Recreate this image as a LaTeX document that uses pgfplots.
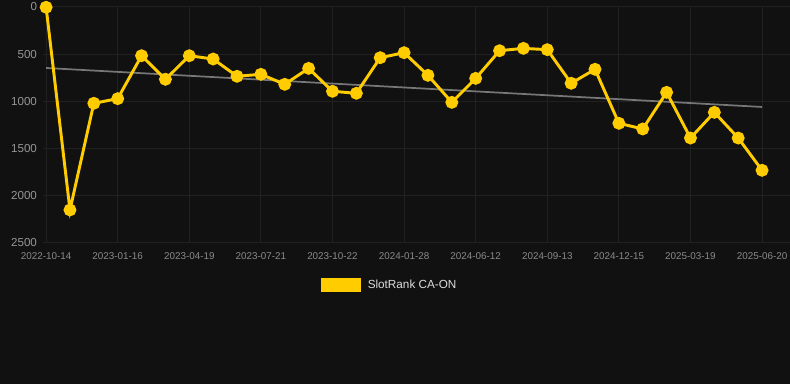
\documentclass[border=0pt]{standalone}
\usepackage{pgfplots}
\pgfplotsset{compat=1.18}
\usepackage{fontspec}
\setmainfont{Liberation Sans}
\definecolor{bgc}{HTML}{111111}
\definecolor{gridc}{HTML}{212121}
\definecolor{slotyellow}{HTML}{FFCC00}
\definecolor{trendc}{HTML}{777777}
\definecolor{tickc}{HTML}{8A8A8A}
\definecolor{ytickc}{HTML}{969696}
\definecolor{legc}{HTML}{DDDDDD}
\begin{document}
\begin{tikzpicture}
\fill[bgc] (0pt,0pt) rectangle (592.5pt,288pt);
\begin{axis}[
  at={(32.25pt,105.75pt)}, anchor=south west,
  scale only axis, width=560.25pt, height=177pt,
  xmin=-0.13, xmax=31.17, ymin=0, ymax=2500,
  y dir=reverse,
  clip=false,
  axis line style={draw=none},
  major tick length=0pt,
  grid=major, grid style={gridc, line width=0.75pt},
  xtick={0,3,...,30},
  xticklabels={2022-10-14,2023-01-16,2023-04-19,2023-07-21,2023-10-22,2024-01-28,2024-06-12,2024-09-13,2024-12-15,2025-03-19,2025-06-20},
  ytick={0,500,1000,1500,2000,2500},
  /pgf/number format/assume math mode=true,
  scaled y ticks=false,
  yticklabel={\pgfmathprintnumber[fixed,1000 sep={}]{\tick}},
  xticklabel style={font=\fontsize{7.4pt}{8pt}\selectfont, text=tickc, yshift=-4pt},
  yticklabel style={font=\fontsize{8.7pt}{9pt}\selectfont, text=ytickc, xshift=-1pt},
  legend style={at={(0.4645,-0.178)}, anchor=center, draw=none, fill=none,
    font=\fontsize{8.8pt}{10pt}\selectfont, text=legc},
  legend image code/.code={\fill[slotyellow] (0pt,-4pt) rectangle (28pt,4.25pt);},
]
\addplot[trendc, line width=1.3pt, forget plot] coordinates {(0,646) (30,1059)};
\addplot[slotyellow, line width=2.2pt, mark=*, mark size=3.7pt, mark options={fill=slotyellow, draw=none}] coordinates {
(0,3) (1,2150) (2,1020) (3,971) (4,516) (5,766) (6,516) (7,551) (8,734) (9,713)
(10,819) (11,650) (12,893) (13,914) (14,537) (15,484) (16,724) (17,1010) (18,756) (19,463)
(20,438) (21,452) (22,808) (23,660) (24,1232) (25,1292) (26,904) (27,1388) (28,1116) (29,1388)
(30,1730)};
\addlegendentry{\hspace{3pt}SlotRank CA-ON}
\end{axis}
\pgfresetboundingbox
\path (0pt,0pt) rectangle (592.5pt,288pt);
\end{tikzpicture}
\end{document}
